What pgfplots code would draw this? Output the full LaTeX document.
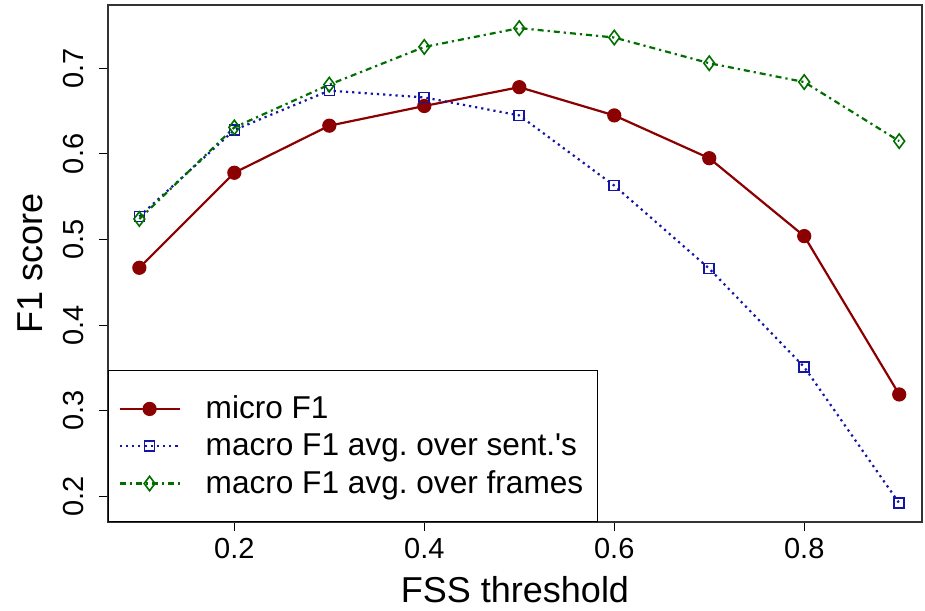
\documentclass[border=0pt]{standalone}
\usepackage{fontspec}
\setmainfont{Liberation Sans}
\usepackage{pgfplots}
\pgfplotsset{compat=1.18}
\definecolor{rred}{RGB}{139,0,0}
\definecolor{rblue}{RGB}{20,20,165}
\definecolor{rgreen}{RGB}{0,110,0}
\begin{document}
\begin{tikzpicture}
% picture frame: 925x610 px at 2 px per pt
\useasboundingbox (-54pt,-44pt) rectangle (408.5pt,261pt);
\begin{axis}[
    scale only axis,
    width=407pt,
    height=258.5pt,
    xmin=0.067, xmax=0.924,
    ymin=0.170, ymax=0.774,
    xtick={0.2,0.4,0.6,0.8},
    ytick={0.2,0.3,0.4,0.5,0.6,0.7},
    xticklabels={0.2,0.4,0.6,0.8},
    yticklabels={0.2,0.3,0.4,0.5,0.6,0.7},
    tick align=outside,
    tick pos=left,
    major tick length=4.5pt,
    tick style={black, line width=0.5pt},
    axis line style={line width=0.6pt, black!80},
    yticklabel style={rotate=90, anchor=south, font=\fontsize{14.5}{17}\selectfont},
    xticklabel style={font=\fontsize{14.5}{17}\selectfont},
    yticklabel shift=4pt,
    xlabel={FSS threshold},
    ylabel={F1 score},
    label style={font=\fontsize{18}{21}\selectfont},
    xlabel style={at={(rel axis cs:0.5,0)}, anchor=center, yshift=-34pt},
    ylabel style={at={(rel axis cs:0,0.5)}, anchor=center, yshift=39pt},
    /pgf/number format/assume math mode=true,
    legend style={at={(0,0)}, anchor=south west, draw=black, line width=0.5pt,
        font=\fontsize{15.8}{19}\selectfont, inner xsep=5pt, inner ysep=10.5pt,
        row sep=2pt, column sep=10.5pt},
    legend cell align=left,
    legend image code/.code={
        \draw[mark repeat=2,mark phase=2] plot coordinates {(0pt,0pt) (15pt,0pt) (30pt,0pt)};
    },
]
\addplot[color=rred, line width=1.1pt, mark=*, mark size=3pt, mark options={solid, fill=rred}]
coordinates {(0.1,0.467) (0.2,0.578) (0.3,0.633) (0.4,0.656) (0.5,0.678) (0.6,0.645) (0.7,0.595) (0.8,0.504) (0.9,0.319)};
\addplot[color=rblue, line width=1.1pt, dotted, mark=square, mark size=2.5pt, mark options={solid, line width=0.8pt}]
coordinates {(0.1,0.527) (0.2,0.628) (0.3,0.674) (0.4,0.666) (0.5,0.645) (0.6,0.563) (0.7,0.466) (0.8,0.351) (0.9,0.192)};
\addplot[color=rgreen, line width=1.1pt, dash dot, mark=diamond, mark size=3.6pt, mark options={solid, line width=0.8pt}]
coordinates {(0.1,0.524) (0.2,0.631) (0.3,0.681) (0.4,0.725) (0.5,0.747) (0.6,0.736) (0.7,0.706) (0.8,0.684) (0.9,0.615)};
\legend{micro F1, macro F1 avg.\ over sent.\textquotesingle s, macro F1 avg.\ over frames}
\end{axis}
\end{tikzpicture}
\end{document}
